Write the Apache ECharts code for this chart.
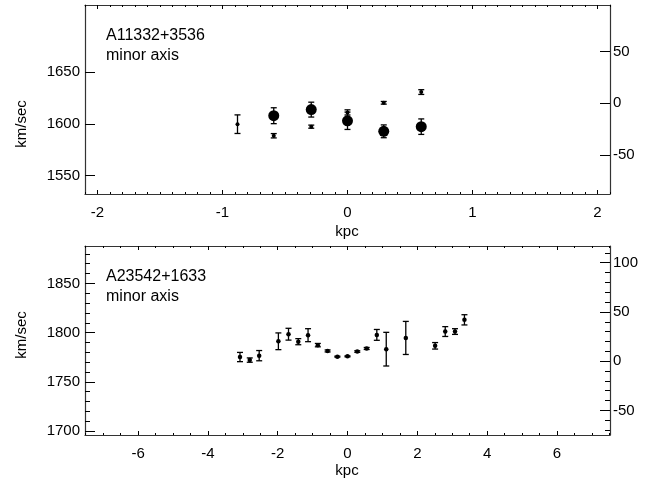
<!DOCTYPE html>
<html><head><meta charset="utf-8">
<script src="https://cdn.jsdelivr.net/npm/echarts@6/dist/echarts.min.js"></script>
<style>html,body{margin:0;padding:0;background:#fff}#c{width:658px;height:483px}</style>
</head><body><div id="c"></div>
<script>
// ---------- top panel data ----------
const topLabels = ['A11332+3536', 'minor axis'];
const topXTicks = [-2, -1, 0, 1, 2];
const topYLeftTicks = [1550, 1600, 1650];
const topYRightTicks = [-50, 0, 50];
const topSmallX = [-0.88, -0.59, -0.29, 0, 0.29, 0.59];
const topSmallV = [1599.6, 1588.4, 1597.2, 1611.0, 1620.3, 1630.7];
const topSmallErr = [9.0, 2.1, 1.5, 2.5, 1.3, 2.3];
const topBigX = [-0.59, -0.29, 0, 0.29, 0.59];
const topBigV = [1607.8, 1613.7, 1602.9, 1592.7, 1597.2];
const topBigErr = [7.7, 7.2, 8.4, 6.2, 7.5];
// ---------- bottom panel data ----------
const botLabels = ['A23542+1633', 'minor axis'];
const botXTicks = [-6, -4, -2, 0, 2, 4, 6];
const botYLeftTicks = [1700, 1750, 1800, 1850];
const botYRightTicks = [-50, 0, 50, 100];
const botX = [-3.08, -2.80, -2.53, -1.98, -1.69, -1.41, -1.13, -0.85, -0.57, -0.29, 0, 0.28, 0.55, 0.84, 1.11, 1.67, 2.51, 2.80, 3.08, 3.35];
const botV = [1775.2, 1772.1, 1776.6, 1791.2, 1798.4, 1790.8, 1797.4, 1787.3, 1781.4, 1775.6, 1775.9, 1780.8, 1783.9, 1797.7, 1783.2, 1794.6, 1786.6, 1801.1, 1801.1, 1813.0];
const botErr = [4.7, 2.2, 5.2, 8.5, 6.0, 3.1, 6.6, 1.7, 1.0, 0.5, 0.5, 0.8, 1.0, 5.5, 17.1, 16.8, 3.3, 5.0, 2.9, 5.2];
const axisTitleX = 'kpc';
const axisTitleY = 'km/sec';

const FONT = 'Liberation Sans, Arial, Helvetica, sans-serif';
const FRAME = '#333';
const FS = 15;

function range(a, b, step) {
  const out = [];
  for (let v = a; v <= b + 1e-9; v += step) out.push(Math.round(v * 1000) / 1000);
  return out;
}
const fmt = v => String(v);

function xAxis(grid, min, max, position, ticks, len, labels, line) {
  return {
    type: 'value', gridIndex: grid, min: min, max: max, position: position,
    axisLine: { show: line, onZero: false, lineStyle: { color: FRAME, width: 1.2 } },
    axisTick: { show: ticks.length > 0, inside: true, length: len, customValues: ticks, lineStyle: { color: '#000', width: 1 } },
    axisLabel: { show: labels, customValues: ticks, formatter: fmt, fontSize: FS, color: '#000', fontFamily: FONT, margin: 11 },
    splitLine: { show: false }
  };
}
function yAxis(grid, min, max, position, ticks, len, labels, line) {
  return {
    type: 'value', gridIndex: grid, min: min, max: max, position: position,
    axisLine: { show: line, onZero: false, lineStyle: { color: FRAME, width: 1.2 } },
    axisTick: { show: ticks.length > 0, inside: true, length: len, customValues: ticks, lineStyle: { color: '#000', width: 1 } },
    axisLabel: { show: labels, customValues: ticks, formatter: fmt, fontSize: FS, color: '#000', fontFamily: FONT, margin: position === 'left' ? 5 : 3 },
    splitLine: { show: false }
  };
}

const T = { xmin: -2.1, xmax: 2.1, ymin: 1532, ymax: 1715, rmin: -88, rmax: 95 };
const B = { xmin: -7.52, xmax: 7.52, ymin: 1696, ymax: 1888, rmin: -75, rmax: 117 };

const topXMinor = range(-2.1, 2.1, 0.1);
const botXMinor = range(-7.5, 7.5, 0.5);
const botYMinor = range(1700, 1880, 10);
const botRMinor = range(-70, 110, 10);

const xAxes = [
  xAxis(0, T.xmin, T.xmax, 'bottom', topXTicks, 4, true, true),
  xAxis(0, T.xmin, T.xmax, 'bottom', topXMinor, 2, false, false),
  xAxis(0, T.xmin, T.xmax, 'top', topXTicks, 4, false, true),
  xAxis(0, T.xmin, T.xmax, 'top', topXMinor, 2, false, false),
  xAxis(1, B.xmin, B.xmax, 'bottom', botXTicks, 4, true, true),
  xAxis(1, B.xmin, B.xmax, 'bottom', botXMinor, 2, false, false),
  xAxis(1, B.xmin, B.xmax, 'top', botXTicks, 4, false, true),
  xAxis(1, B.xmin, B.xmax, 'top', botXMinor, 2, false, false)
];
const yAxes = [
  yAxis(0, T.ymin, T.ymax, 'left', topYLeftTicks, 10, true, true),
  yAxis(0, T.rmin, T.rmax, 'right', topYRightTicks, 10, true, true),
  yAxis(1, B.ymin, B.ymax, 'left', botYLeftTicks, 10, true, true),
  yAxis(1, B.ymin, B.ymax, 'left', botYMinor, 5, false, false),
  yAxis(1, B.rmin, B.rmax, 'right', botRMinor, 5, false, false),
  yAxis(1, B.rmin, B.rmax, 'right', botYRightTicks, 10, true, true)
];

function errData(xs, vs, es) {
  return xs.map((x, i) => [x, vs[i] - es[i], vs[i] + es[i]]);
}
function errSeries(xi, yi, data) {
  return {
    type: 'custom', xAxisIndex: xi, yAxisIndex: yi, data: data, silent: true, z: 2,
    renderItem: function (params, api) {
      const x = api.value(0);
      const a = api.coord([x, api.value(1)]);
      const b = api.coord([x, api.value(2)]);
      const w = 3;
      const st = { stroke: '#000', lineWidth: 1.3 };
      return {
        type: 'group', children: [
          { type: 'line', shape: { x1: a[0], y1: a[1], x2: b[0], y2: b[1] }, style: st },
          { type: 'line', shape: { x1: a[0] - w, y1: a[1], x2: a[0] + w, y2: a[1] }, style: st },
          { type: 'line', shape: { x1: b[0] - w, y1: b[1], x2: b[0] + w, y2: b[1] }, style: st }
        ]
      };
    }
  };
}
function pts(xi, yi, xs, vs, size) {
  return {
    type: 'scatter', xAxisIndex: xi, yAxisIndex: yi, z: 3, symbol: 'circle', symbolSize: size,
    itemStyle: { color: '#000', opacity: 1 }, data: xs.map((x, i) => [x, vs[i]])
  };
}

function txt(x, y, s) {
  return { type: 'text', x: x, y: y, style: { text: s, fontSize: 16, fontFamily: FONT, fill: '#000', textAlign: 'left', textVerticalAlign: 'middle' } };
}
function ctxt(x, y, s, rot) {
  return { type: 'text', x: x, y: y, rotation: rot || 0, style: { text: s, fontSize: FS, fontFamily: FONT, fill: '#000', textAlign: 'center', textVerticalAlign: 'middle' } };
}

const chart = echarts.init(document.getElementById('c'), null, { renderer: 'canvas' });
chart.setOption({
  animation: false,
  backgroundColor: '#fff',
  grid: [
    { left: 85, top: 5, width: 525, height: 189 },
    { left: 85, top: 246, width: 525, height: 189 }
  ],
  xAxis: xAxes,
  yAxis: yAxes,
  series: [
    errSeries(0, 0, errData(topSmallX, topSmallV, topSmallErr)),
    errSeries(0, 0, errData(topBigX, topBigV, topBigErr)),
    pts(0, 0, topSmallX, topSmallV, 4),
    pts(0, 0, topBigX, topBigV, 11),
    errSeries(4, 2, errData(botX, botV, botErr)),
    pts(4, 2, botX, botV, 4.5)
  ],
  graphic: [
    txt(106, 36, topLabels[0]),
    txt(106, 56, topLabels[1]),
    txt(106, 277, botLabels[0]),
    txt(106, 297, botLabels[1]),
    ctxt(347, 232, axisTitleX),
    ctxt(347, 471, axisTitleX),
    ctxt(22, 124, axisTitleY, Math.PI / 2),
    ctxt(22, 335, axisTitleY, Math.PI / 2)
  ]
});
</script>
</body></html>
